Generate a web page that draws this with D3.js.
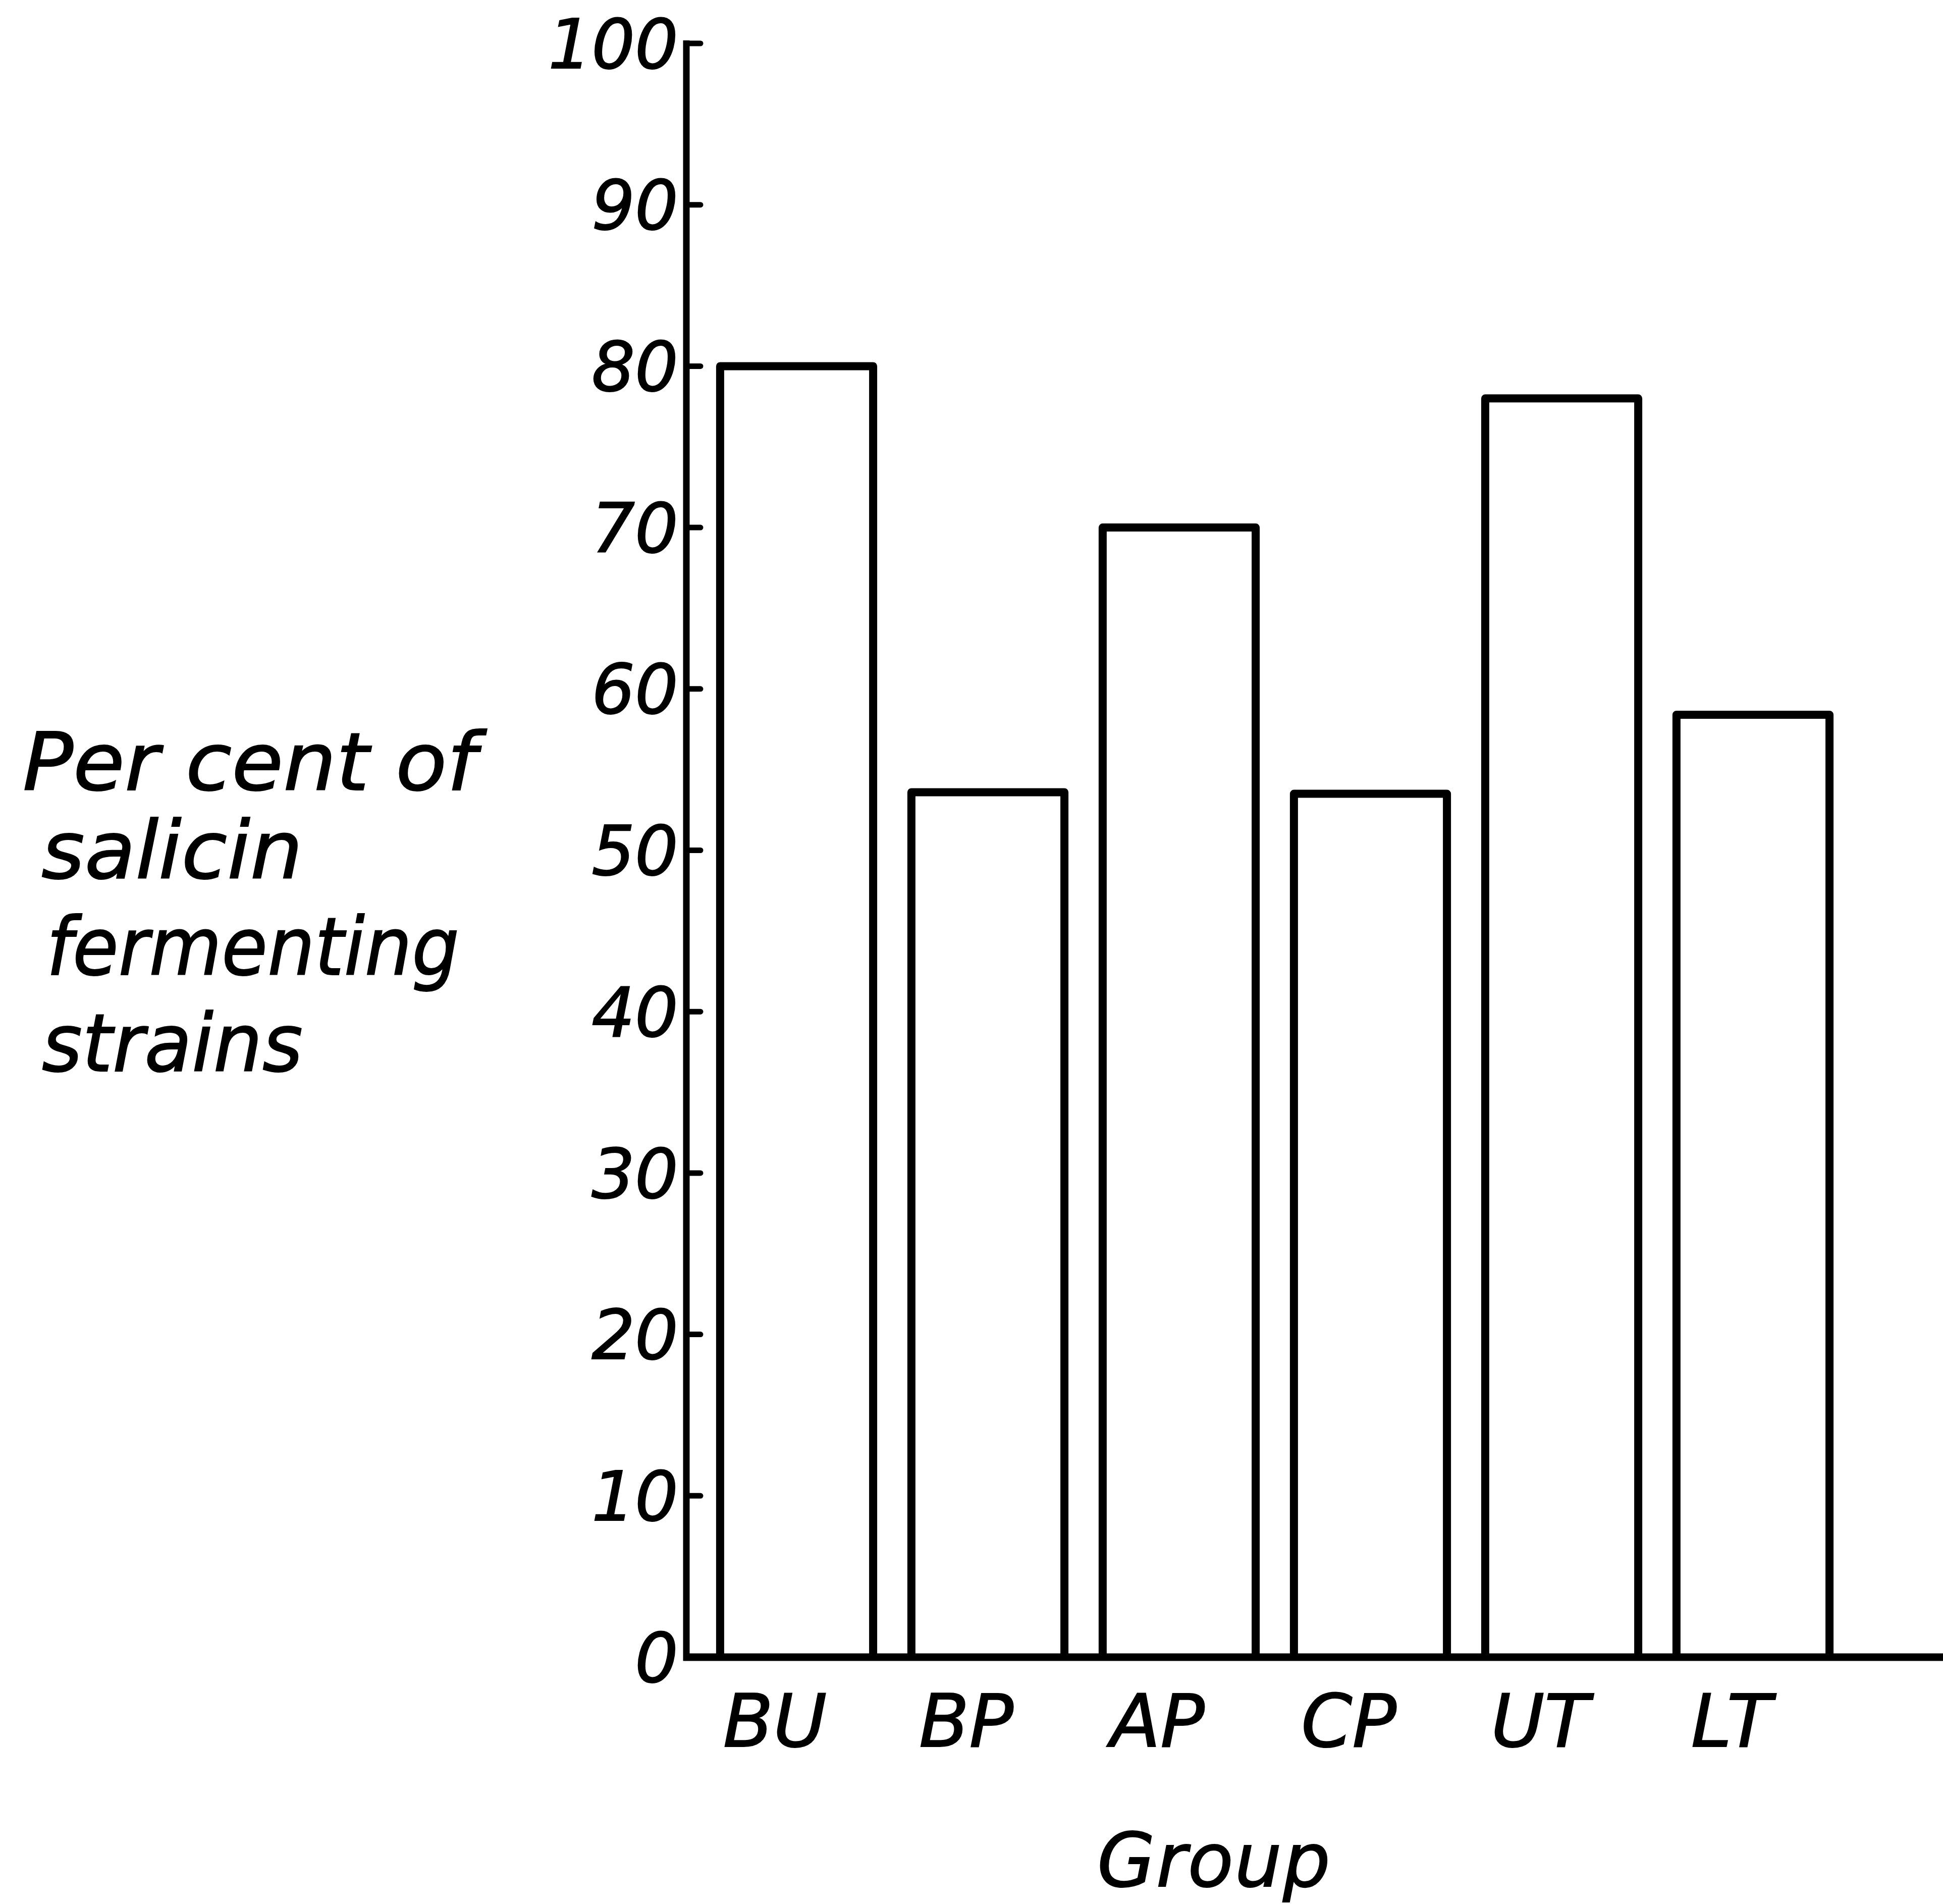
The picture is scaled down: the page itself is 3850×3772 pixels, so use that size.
<!DOCTYPE html>
<html><head><meta charset="utf-8">
<script src="https://cdn.jsdelivr.net/npm/d3@7"></script>
<style>body{margin:0;background:#fff}</style>
</head><body><svg id="c" width="3850" height="3772"></svg>
<script>
const categories = ["BU","BP","AP","CP","UT","LT"];
const values = [80, 53.6, 70, 53.5, 78, 58.4];
const yTicks = [0,10,20,30,40,50,60,70,80,90,100];
const yTitleLines = ["Per cent of","salicin","fermenting","strains"];
const xTitle = "Group";

const svg = d3.select("#c");
svg.append("rect").attr("width",3850).attr("height",3772).attr("fill","#fff");
const FONT = "'DejaVu Sans', sans-serif";

const axisX = 1360;
const y = d3.scaleLinear().domain([0,100]).range([3283, 86]);
const x = d3.scaleBand().domain(categories).range([1389, 3663]).paddingInner(0.2).paddingOuter(0.1);

// bars (open-bottom rectangles)
svg.append("g").selectAll("path").data(categories).join("path")
  .attr("d", (c,i) => {
    const x0 = x(c), x1 = x(c) + x.bandwidth(), yt = y(values[i]), yb = y(0);
    return `M${x0},${yb}L${x0},${yt}L${x1},${yt}L${x1},${yb}`;
  })
  .attr("fill","none").attr("stroke","#000").attr("stroke-width",16)
  .attr("stroke-linejoin","round");

// y axis
svg.append("line").attr("x1",axisX).attr("x2",axisX)
  .attr("y1",y(100)-6).attr("y2",y(0)+7)
  .attr("stroke","#000").attr("stroke-width",13);
// x axis
svg.append("line").attr("x1",axisX-6).attr("x2",3850)
  .attr("y1",y(0)).attr("y2",y(0))
  .attr("stroke","#000").attr("stroke-width",15);

// ticks (pointing right)
svg.append("g").selectAll("line").data(yTicks.filter(t=>t>0)).join("line")
  .attr("x1",axisX).attr("x2",axisX+28)
  .attr("y1",d=>y(d)).attr("y2",d=>y(d))
  .attr("stroke","#000").attr("stroke-width",11).attr("stroke-linecap","round");

// tick labels
svg.append("g").selectAll("text").data(yTicks).join("text")
  .attr("x",axisX-16).attr("y",d=>y(d))
  .attr("dy","0.36em")
  .attr("text-anchor","end")
  .attr("font-family",FONT).attr("font-style","italic")
  .attr("font-size",135).attr("fill","#000")
  .attr("stroke","#000").attr("stroke-width",2)
  .text(d=>d);

// category labels
svg.append("g").selectAll("text").data(categories).join("text")
  .attr("x",c=>x(c)+x.bandwidth()/2-43).attr("y",3460)
  .attr("text-anchor","middle")
  .attr("font-family",FONT).attr("font-style","italic")
  .attr("font-size",145).attr("fill","#000")
  .attr("stroke","#000").attr("stroke-width",2)
  .text(c=>c);

// x title
svg.append("text").attr("x",2406).attr("y",3737)
  .attr("text-anchor","middle")
  .attr("font-family",FONT).attr("font-style","italic")
  .attr("font-size",148).attr("fill","#000")
  .attr("stroke","#000").attr("stroke-width",2)
  .attr("letter-spacing",2)
  .text(xTitle);

// y title
const yTitleX = [45, 82, 92, 83];
const yTitleY = [1565, 1740, 1931, 2122];
const yTitleW = [899, 518, 818, 517];
svg.append("g").selectAll("text").data(yTitleLines).join("text")
  .attr("x",(d,i)=>yTitleX[i]).attr("y",(d,i)=>yTitleY[i])
  .attr("textLength",(d,i)=>yTitleW[i]).attr("lengthAdjust","spacingAndGlyphs")
  .attr("font-family",FONT).attr("font-style","italic")
  .attr("font-size",158).attr("fill","#000")
  .attr("stroke","#000").attr("stroke-width",2)
  .text(d=>d);
</script></body></html>
